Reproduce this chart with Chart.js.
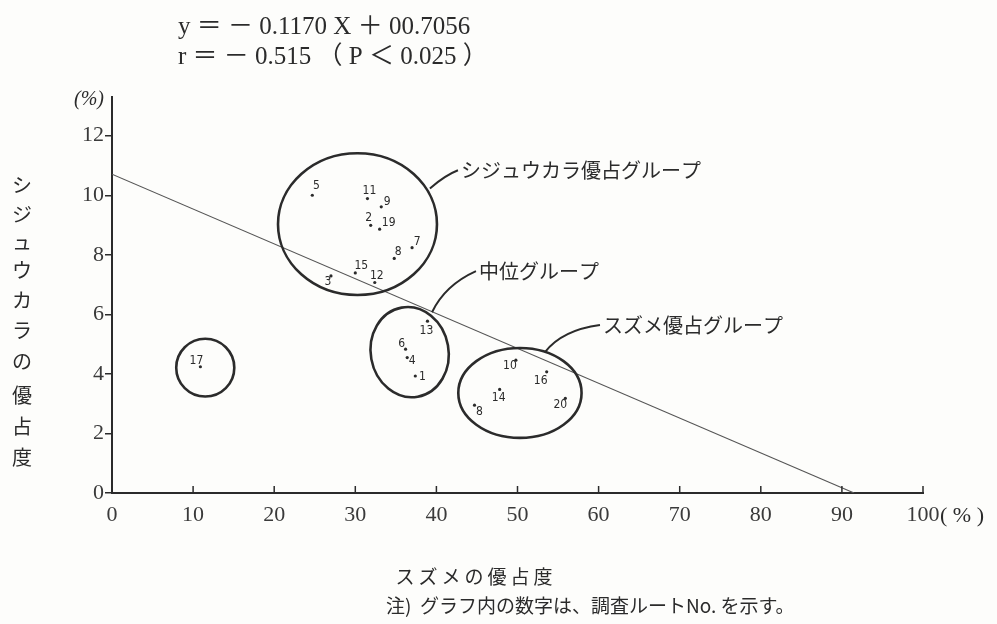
<!DOCTYPE html>
<html lang="ja">
<head>
<meta charset="utf-8">
<script src="https://cdn.jsdelivr.net/npm/chart.js@4.4.0/dist/chart.umd.min.js"></script>
<style>
html, body { margin: 0; padding: 0; background: #fdfdfb; }
#wrap { width: 997px; height: 624px; }
</style>
</head>
<body>
<div id="wrap"><canvas id="dominance" width="997" height="624"></canvas></div>
<script>
// survey routes 1-20 (route 18 prints as "8")
const routeLabels = ['1', '2', '3', '4', '5', '6', '7', '8', '9', '10',
	'11', '12', '13', '14', '15', '16', '17', '8', '19', '20'];
// スズメの優占度 (%)
const sparrowShare = [37.4, 31.9, 27.0, 36.4, 24.7, 36.2, 37.0, 34.8, 33.2, 49.8,
	31.5, 32.4, 38.9, 47.8, 30.0, 53.6, 10.9, 44.7, 33.0, 55.9];
// シジュウカラの優占度 (%)
const titShare = [3.93, 8.99, 7.29, 4.55, 10.0, 4.83, 8.24, 7.88, 9.61, 4.46,
	9.89, 7.07, 5.77, 3.48, 7.39, 4.07, 4.24, 2.95, 8.86, 3.18];

const xTicks = [0, 10, 20, 30, 40, 50, 60, 70, 80, 90, 100];
const yTicks = [0, 2, 4, 6, 8, 10, 12];

// regression y = -0.1170 X + 10.7056
const slope = -0.1170;
const intercept = 10.7056;

// where each route number sits next to its dot (px)
const labelNudge = [[7, 1], [-2, -7], [-3, 6], [5, 3], [4, -9], [-4, -5], [5, -6], [4, -7], [6, -5], [-6, 6],
	[2, -8], [2, -7], [-1, 10], [-1, 8], [6, -7], [-6, 9], [-4, -6], [5, 7], [9, -6], [-5, 7]];

// hand-drawn rings around the groups, in data units
const rings = [
	{ cx: 30.27, cy: 9.03, rx: 9.8, ry: 2.38, tilt: 0 },
	{ cx: 36.7, cy: 4.73, rx: 4.8, ry: 1.52, tilt: -0.18 },
	{ cx: 50.3, cy: 3.36, rx: 7.6, ry: 1.51, tilt: 0 },
	{ cx: 11.5, cy: 4.21, rx: 3.58, ry: 0.97, tilt: 0 }
];

// leader lines + group names
const callouts = [
	{ from: [39.2, 10.23], ctrl: [41.06, 10.67], to: [42.66, 10.84], text: 'シジュウカラ優占グループ' },
	{ from: [39.46, 6.07], ctrl: [41.06, 6.98], to: [44.88, 7.45], text: '中位グループ' },
	{ from: [53.39, 4.73], ctrl: [55.49, 5.47], to: [60.17, 5.64], text: 'スズメ優占グループ' }
];

const ink = '#2b2b2b';
const serif = '"Liberation Serif", "DejaVu Serif", serif';
const jp = '"Noto Sans CJK JP", sans-serif';

const routePoints = sparrowShare.map((v, i) => ({ x: v, y: titShare[i] }));
const fitLine = [{ x: 0, y: intercept }, { x: -intercept / slope, y: 0 }];

const paperMarks = {
	id: 'paperMarks',
	afterDatasetsDraw(chart) {
		const { ctx, scales: { x, y } } = chart;
		const px = v => x.getPixelForValue(v);
		const py = v => y.getPixelForValue(v);
		ctx.save();
		ctx.strokeStyle = ink;

		// x tick marks stand up from the axis
		ctx.lineWidth = 1.5;
		xTicks.forEach(v => {
			ctx.beginPath();
			ctx.moveTo(px(v), py(0));
			ctx.lineTo(px(v), py(0) - 7);
			ctx.stroke();
		});

		// group rings
		ctx.lineWidth = 2.6;
		rings.forEach(r => {
			const rxp = Math.abs(px(r.cx + r.rx) - px(r.cx));
			const ryp = Math.abs(py(r.cy + r.ry) - py(r.cy));
			ctx.beginPath();
			ctx.ellipse(px(r.cx), py(r.cy), rxp, ryp, r.tilt, 0, Math.PI * 2);
			ctx.stroke();
		});

		// leaders and group names
		ctx.lineWidth = 2;
		ctx.fillStyle = ink;
		ctx.font = '20px ' + jp;
		ctx.textBaseline = 'middle';
		ctx.textAlign = 'left';
		callouts.forEach(c => {
			ctx.beginPath();
			ctx.moveTo(px(c.from[0]), py(c.from[1]));
			ctx.quadraticCurveTo(px(c.ctrl[0]), py(c.ctrl[1]), px(c.to[0]), py(c.to[1]));
			ctx.stroke();
			ctx.fillText(c.text, px(c.to[0]) + 3, py(c.to[1]));
		});

		// route numbers
		ctx.font = '12px "DejaVu Sans Condensed", sans-serif';
		ctx.textAlign = 'center';
		routePoints.forEach((p, i) => {
			ctx.fillText(routeLabels[i], px(p.x) + labelNudge[i][0], py(p.y) + labelNudge[i][1]);
		});
		ctx.restore();
	},
	afterDraw(chart) {
		const { ctx, scales: { x, y } } = chart;
		ctx.save();
		ctx.fillStyle = ink;
		ctx.textBaseline = 'middle';

		// equation block
		ctx.textAlign = 'left';
		ctx.font = '25px "Liberation Serif", ' + jp;
		ctx.fillText('y ＝ － 0.1170 X ＋ 00.7056', 178, 27);
		ctx.fillText('r ＝ － 0.515 （ P ＜ 0.025 ）', 178, 57);

		// units
		ctx.font = 'italic 20px "Liberation Serif", serif';
		ctx.fillText('(%)', 74, 100);
		ctx.font = '22px ' + serif;
		ctx.fillText('( % )', x.getPixelForValue(100) + 17, y.getPixelForValue(0) + 23);

		// vertical y title
		ctx.textAlign = 'center';
		ctx.font = '20px ' + jp;
		const yTitle = 'シジュウカラの優占度';
		const steps = [185, 214, 242, 270, 300, 330, 361, 395, 426, 457];
		[...yTitle].forEach((ch, i) => ctx.fillText(ch, 22, steps[i]));

		// x title and note
		ctx.font = '19px ' + jp;
		ctx.letterSpacing = '4px';
		ctx.fillText('スズメの優占度', 476, 577);
		ctx.letterSpacing = '0px';
		ctx.font = '19px ' + jp;
		ctx.textAlign = 'left';
		ctx.fillText('注)  グラフ内の数字は、調査ルートNo. を示す。', 386, 606);
		ctx.restore();
	}
};

new Chart(document.getElementById('dominance').getContext('2d'), {
	type: 'scatter',
	data: {
		datasets: [{
			label: 'routes',
			data: routePoints,
			pointRadius: 1.6,
			pointBackgroundColor: ink,
			pointBorderWidth: 0
		}, {
			label: 'fit',
			data: fitLine,
			showLine: true,
			pointRadius: 0,
			borderColor: '#555',
			borderWidth: 1.1
		}]
	},
	options: {
		responsive: false,
		animation: false,
		layout: { padding: { left: 0, top: 97, right: 74, bottom: 0 } },
		plugins: {
			legend: { display: false },
			tooltip: { enabled: false }
		},
		scales: {
			x: {
				type: 'linear',
				min: 0,
				max: 100,
				afterBuildTicks: s => { s.ticks = xTicks.map(v => ({ value: v })); },
				afterFit: s => { s.height = 131; },
				grid: { display: false, drawTicks: false },
				border: { display: true, color: ink, width: 2 },
				ticks: {
					color: '#3a3a3a',
					padding: 9,
					maxRotation: 0,
					font: { family: serif, size: 22 }
				}
			},
			y: {
				type: 'linear',
				min: 0,
				max: 13.3,
				afterBuildTicks: s => { s.ticks = yTicks.map(v => ({ value: v })); },
				afterFit: s => { s.width = 112; },
				grid: { drawOnChartArea: false, drawTicks: true, tickLength: 7, color: ink, lineWidth: 1.5 },
				border: { display: true, color: ink, width: 2 },
				ticks: {
					color: '#3a3a3a',
					padding: 1,
					font: { family: serif, size: 22 }
				}
			}
		}
	},
	plugins: [paperMarks]
});
</script>
</body>
</html>
